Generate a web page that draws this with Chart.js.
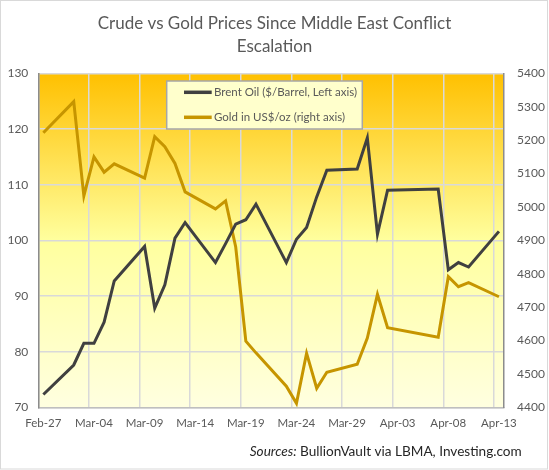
<!DOCTYPE html>
<html><head><meta charset="utf-8">
<script src="https://cdn.jsdelivr.net/npm/chart.js@4.4.1/dist/chart.umd.min.js"></script>
<style>html,body{margin:0;padding:0;background:#fff;}#wrap{width:549px;height:470px;position:relative;}</style>
</head><body><div id="wrap"><canvas id="c" width="549" height="470"></canvas></div>
<script>
const titleLines = ['Crude vs Gold Prices Since Middle East Conflict', 'Escalation'];
const dates = ['2026-02-27','2026-03-02','2026-03-03','2026-03-04','2026-03-05','2026-03-06',
  '2026-03-09','2026-03-10','2026-03-11','2026-03-12','2026-03-13',
  '2026-03-16','2026-03-17','2026-03-18','2026-03-19','2026-03-20',
  '2026-03-23','2026-03-24','2026-03-25','2026-03-26','2026-03-27',
  '2026-03-30','2026-03-31','2026-04-01','2026-04-02',
  '2026-04-07','2026-04-08','2026-04-09','2026-04-10','2026-04-13'];
const oil = [72.3, 77.6, 81.5, 81.5, 85.3, 92.7,
  98.9, 87.8, 92.0, 100.4, 103.2,
  96.0, 99.4, 102.9, 103.7, 106.5,
  96.0, 100.2, 102.3, 107.8, 112.6,
  112.8, 118.4, 101.1, 109.0,
  109.2, 94.7, 96.0, 95.2, 101.6];
const gold = [5222, 5315, 5033, 5150, 5104, 5129,
  5086, 5210, 5180, 5130, 5045,
  4994, 5018, 4880, 4598, 4563,
  4463, 4412, 4562, 4457, 4505,
  4529, 4607, 4738, 4638,
  4610, 4791, 4761, 4773, 4731];
const xTickLabels = ['Feb-27','Mar-04','Mar-09','Mar-14','Mar-19','Mar-24','Mar-29','Apr-03','Apr-08','Apr-13'];
const oilLabel = 'Brent Oil ($/Barrel, Left axis)';
const goldLabel = 'Gold in US$/oz (right axis)';
const sourceItalic = 'Sources:';
const sourceText = ' BullionVault via LBMA, Investing.com';

const FONT = 'Lato, "Open Sans", sans-serif';
const OIL_COLOR = '#404040';
const GOLD_COLOR = '#C69500';
const day0 = Date.parse(dates[0]);
const dayIdx = dates.map(d => (Date.parse(d) - day0) / 864e5);
const oilPts = dayIdx.map((x, i) => ({x, y: oil[i]}));
const goldPts = dayIdx.map((x, i) => ({x, y: gold[i]}));

const decor = {
  id: 'decor',
  beforeDraw(chart) {
    const {ctx, chartArea: a} = chart;
    ctx.save();
    ctx.fillStyle = '#fff';
    ctx.fillRect(0, 0, chart.width, chart.height);
    ctx.strokeStyle = '#D9D9D9';
    ctx.lineWidth = 1;
    ctx.strokeRect(0.5, 0.5, chart.width - 2, chart.height - 1.5);
    const g = ctx.createLinearGradient(0, a.top, 0, a.bottom);
    g.addColorStop(0, '#FFC000');
    g.addColorStop(0.5, '#FFFF9E');
    g.addColorStop(1, '#FFFFE0');
    ctx.fillStyle = g;
    ctx.fillRect(a.left, a.top, a.right - a.left, a.bottom - a.top);
    // title
    ctx.fillStyle = '#595959';
    ctx.font = '17px ' + FONT;
    ctx.textAlign = 'center';
    ctx.textBaseline = 'middle';
    ctx.fillText(titleLines[0], chart.width / 2, 23.5);
    ctx.fillText(titleLines[1], chart.width / 2, 46.5);
    ctx.restore();
  },
  afterDraw(chart) {
    const {ctx} = chart;
    ctx.save();
    // legend box
    const bx = 166.7, by = 81, bw = 195.6, bh = 48;
    ctx.fillStyle = '#FFFFCC';
    ctx.fillRect(bx, by, bw, bh);
    ctx.strokeStyle = '#A6A6A6';
    ctx.lineWidth = 1.5;
    ctx.strokeRect(bx, by, bw, bh);
    const items = chart.data.datasets;
    const rows = [92.3, 117.3];
    items.forEach((ds, i) => {
      ctx.strokeStyle = ds.borderColor;
      ctx.lineWidth = 3.5;
      ctx.beginPath();
      ctx.moveTo(184, rows[i]);
      ctx.lineTo(211.7, rows[i]);
      ctx.stroke();
      ctx.fillStyle = '#595959';
      ctx.font = '11.5px ' + FONT;
      ctx.textAlign = 'left';
      ctx.textBaseline = 'middle';
      ctx.fillText(ds.label, 214, rows[i]);
    });
    // source
    ctx.fillStyle = '#262626';
    ctx.font = '13.6px ' + FONT;
    ctx.textBaseline = 'middle';
    ctx.textAlign = 'right';
    const rx = 521.7;
    ctx.fillText(sourceText, rx, 451.7);
    const w = ctx.measureText(sourceText).width;
    ctx.font = 'italic 13.6px ' + FONT;
    ctx.fillText(sourceItalic, rx - w, 451.7);
    ctx.restore();
  }
};

new Chart(document.getElementById('c'), {
  type: 'line',
  data: {
    datasets: [
      {label: oilLabel, data: oilPts, borderColor: OIL_COLOR, backgroundColor: OIL_COLOR, borderWidth: 3, pointRadius: 0, tension: 0, yAxisID: 'y'},
      {label: goldLabel, data: goldPts, borderColor: GOLD_COLOR, backgroundColor: GOLD_COLOR, borderWidth: 3, pointRadius: 0, tension: 0, yAxisID: 'y2'}
    ]
  },
  options: {
    responsive: false,
    animation: false,
    devicePixelRatio: 1,
    layout: {padding: {top: 73.3, left: 0, right: 0, bottom: 0}},
    plugins: {legend: {display: false}, title: {display: false}, tooltip: {enabled: false}},
    scales: {
      x: {
        type: 'linear', min: -0.5, max: 45.5,
        afterBuildTicks(s) { s.ticks = xTickLabels.map((_, i) => ({value: i * 5 - 0.5})); },
        afterFit(s) { s.height = 62.7; },
        ticks: {callback: (v, i) => xTickLabels[i], autoSkip: false, maxRotation: 0, labelOffset: 5, padding: 9,
          color: '#595959', font: {family: FONT, size: 11.5}},
        grid: {color: '#D9D9D9', lineWidth: 1.5, drawTicks: false},
        border: {color: '#BFBFBF', width: 1.5}
      },
      y: {
        position: 'left', min: 70, max: 130,
        afterFit(s) { s.width = 38.3; },
        ticks: {stepSize: 10, padding: 10, callback: v => String(v), color: '#595959', font: {family: FONT, size: 12}},
        grid: {color: '#D9D9D9', lineWidth: 1.5, drawTicks: false},
        border: {color: '#8C8C8C', width: 1.5}
      },
      y2: {
        position: 'right', min: 4400, max: 5400,
        afterFit(s) { s.width = 45; },
        ticks: {stepSize: 100, padding: 13, callback: v => String(v), color: '#595959', font: {family: FONT, size: 12}},
        grid: {drawOnChartArea: false, drawTicks: false},
        border: {color: '#8C8C8C', width: 1.5}
      }
    }
  },
  plugins: [decor]
});
</script>
</body></html>
